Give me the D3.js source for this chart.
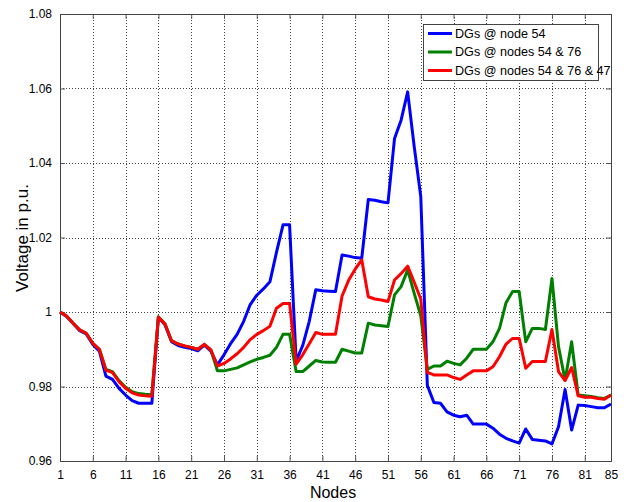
<!doctype html>
<html>
<head>
<meta charset="utf-8">
<title>Voltage profile</title>
<script src="https://d3js.org/d3.v7.min.js"></script>
<style>
  body { margin:0; background:#fff; }
  text { font-family: "Liberation Sans", Arial, sans-serif; fill:#000; }
</style>
</head>
<body>
<svg id="chart" width="641" height="502"></svg>
<script>
// node numbers 1..85
const nodes = d3.range(1, 86);
const xTicks = [1, 6, 11, 16, 21, 26, 31, 36, 41, 46, 51, 56, 61, 66, 71, 76, 81, 85];
const yTicks = [0.96, 0.98, 1.00, 1.02, 1.04, 1.06, 1.08];

// DGs @ node 54
const blueV = [
  1.000, 0.9988, 0.9969, 0.995, 0.9941, 0.9913, 0.9895, 0.9828, 0.9819, 0.9795,
  0.9777, 0.9762, 0.9755, 0.9755, 0.9755, 0.9986, 0.9966, 0.992, 0.991, 0.9905,
  0.9902, 0.9896, 0.9911, 0.9895, 0.9858, 0.9885, 0.9915, 0.994, 0.9975, 1.002,
  1.0045, 1.0062, 1.0081, 1.016, 1.0234, 1.0234, 0.9868, 0.991, 0.9975, 1.006,
  1.0057, 1.0056, 1.0055, 1.0153, 1.015, 1.0146, 1.0144, 1.0302, 1.030, 1.0296,
  1.0293, 1.0466, 1.0515, 1.0591, 1.0444, 1.031, 0.9803, 0.9757, 0.9755, 0.9732,
  0.9723, 0.9719, 0.9723, 0.9699, 0.9699, 0.9699, 0.9688, 0.9672, 0.9661, 0.9654,
  0.9648, 0.9686, 0.9658, 0.9656, 0.9654, 0.9646, 0.9692, 0.9792, 0.9683, 0.975,
  0.9749, 0.9746, 0.9743, 0.9743, 0.9753
];
// DGs @ nodes 54 & 76
const greenV = [
  1.000, 0.9989, 0.997, 0.9952, 0.9943, 0.9916, 0.990, 0.9846, 0.984, 0.9816,
  0.9798, 0.9786, 0.9781, 0.9779, 0.9778, 0.9987, 0.9968, 0.9923, 0.9914, 0.9909,
  0.9905, 0.990, 0.9913, 0.9898, 0.9842, 0.9842, 0.9846, 0.985, 0.9858, 0.9866,
  0.9873, 0.9878, 0.9884, 0.9905, 0.994, 0.994, 0.984, 0.984, 0.9855, 0.987,
  0.9866, 0.9865, 0.9865, 0.990, 0.9895, 0.989, 0.989, 0.997, 0.9965, 0.9963,
  0.9961, 1.0046, 1.0068, 1.0113, 1.005, 0.999, 0.9846, 0.9855, 0.9855, 0.9868,
  0.9862, 0.9858, 0.9876, 0.990, 0.990, 0.990, 0.992, 0.9956, 1.0025, 1.0055,
  1.0055, 0.992, 0.9956, 0.9956, 0.9953, 1.009, 0.9907, 0.9817, 0.992, 0.9777,
  0.9775, 0.9773, 0.977, 0.9768, 0.9777
];
// DGs @ nodes 54 & 76 & 47
const redV = [
  1.000, 0.9989, 0.997, 0.9952, 0.9943, 0.9916, 0.990, 0.9844, 0.9837, 0.9813,
  0.9795, 0.9783, 0.9777, 0.9775, 0.9774, 0.9986, 0.9968, 0.9923, 0.9914, 0.9909,
  0.9905, 0.990, 0.9913, 0.9898, 0.9855, 0.9862, 0.9874, 0.9888, 0.9905, 0.9926,
  0.994, 0.995, 0.9962, 1.001, 1.0023, 1.0023, 0.986, 0.9885, 0.9915, 0.9945,
  0.994, 0.994, 0.994, 1.0043, 1.0085, 1.0115, 1.014, 1.0041, 1.0035, 1.0032,
  1.0028, 1.0086, 1.0103, 1.0123, 1.008, 1.0035, 0.9838, 0.9831, 0.9831, 0.9831,
  0.9824, 0.9819, 0.9831, 0.9842, 0.9842, 0.9842, 0.9853, 0.988, 0.9914, 0.9929,
  0.9929, 0.9849, 0.9867, 0.9867, 0.9867, 0.9953, 0.984, 0.9816, 0.9851, 0.9775,
  0.9771, 0.9771, 0.9768, 0.9766, 0.9777
];

const seriesNames = ["DGs @ node 54", "DGs @ nodes 54 & 76", "DGs @ nodes 54 & 76 & 47"];
const seriesColors = ["#0000ff", "#008000", "#ff0000"];
const seriesValues = [blueV, greenV, redV];

const svg = d3.select("#chart");
const pLeft = 60, pRight = 611, pTop = 14, pBottom = 461;

let x = d3.scaleLinear().domain([1, 85]).range([pLeft, pRight]);
let y = d3.scaleLinear().domain([0.96, 1.08]).range([pBottom, pTop]);

// grid (dotted)
let grid = svg.append("g").attr("stroke", "#444").attr("stroke-width", 1)
  .attr("stroke-dasharray", "1,2").attr("shape-rendering", "crispEdges");
grid.selectAll("line.v").data(xTicks).enter().append("line")
  .attr("x1", d => Math.round(x(d)) + 0.5).attr("x2", d => Math.round(x(d)) + 0.5)
  .attr("y1", pTop).attr("y2", pBottom);
grid.selectAll("line.h").data(yTicks).enter().append("line")
  .attr("y1", d => Math.round(y(d)) + 0.5).attr("y2", d => Math.round(y(d)) + 0.5)
  .attr("x1", pLeft).attr("x2", pRight);

// axes with inward ticks, MATLAB style
let fmt = d => String(+d.toFixed(2));
let xAxis = svg.append("g").attr("transform", `translate(0,${pBottom})`)
  .call(d3.axisBottom(x).tickValues(xTicks).tickSizeInner(-5).tickSizeOuter(0).tickPadding(9));
let xTop = svg.append("g").attr("transform", `translate(0,${pTop})`)
  .call(d3.axisTop(x).tickValues(xTicks).tickSizeInner(-5).tickSizeOuter(0).tickFormat(""));
let yAxis = svg.append("g").attr("transform", `translate(${pLeft},0)`)
  .call(d3.axisLeft(y).tickValues(yTicks).tickSizeInner(-5).tickSizeOuter(0).tickPadding(8).tickFormat(fmt));
let yRight = svg.append("g").attr("transform", `translate(${pRight},0)`)
  .call(d3.axisRight(y).tickValues(yTicks).tickSizeInner(-5).tickSizeOuter(0).tickFormat(""));

[xAxis, xTop, yAxis, yRight].forEach(a => {
  a.select(".domain").remove();
  a.selectAll("line").attr("stroke", "#555");
  a.selectAll("text").style("font-size", "12px").attr("fill", "#000")
    .style("font-family", "'Liberation Sans', Arial, sans-serif");
});

// frame
svg.append("rect").attr("x", pLeft + 0.5).attr("y", pTop + 0.5)
  .attr("width", pRight - pLeft).attr("height", pBottom - pTop)
  .attr("fill", "none").attr("stroke", "#444").attr("stroke-width", 1);

// series lines
let line = d3.line().x((d, i) => x(nodes[i])).y(d => y(d));
seriesValues.forEach((vals, k) => {
  svg.append("path").datum(vals)
    .attr("d", line)
    .attr("fill", "none")
    .attr("stroke", seriesColors[k])
    .attr("stroke-width", 3)
    .attr("stroke-linejoin", "round");
});

// legend
let lg = svg.append("g");
lg.append("rect").attr("x", 423.5).attr("y", 24.5).attr("width", 175).attr("height", 56)
  .attr("fill", "#fff").attr("stroke", "#444");
seriesNames.forEach((name, k) => {
  let yy = 33.5 + k * 18.5;
  lg.append("line").attr("x1", 428).attr("x2", 452).attr("y1", yy).attr("y2", yy)
    .attr("stroke", seriesColors[k]).attr("stroke-width", 3);
  lg.append("text").attr("x", 455).attr("y", yy).attr("dy", "0.35em")
    .style("font-size", "12.6px").text(name);
});

// axis titles
svg.append("text").attr("x", 333).attr("y", 498).attr("text-anchor", "middle")
  .style("font-size", "16px").text("Nodes");
svg.append("text").attr("transform", "translate(28,238) rotate(-90)")
  .attr("text-anchor", "middle").style("font-size", "17px").text("Voltage in p.u.");
</script>
</body>
</html>
